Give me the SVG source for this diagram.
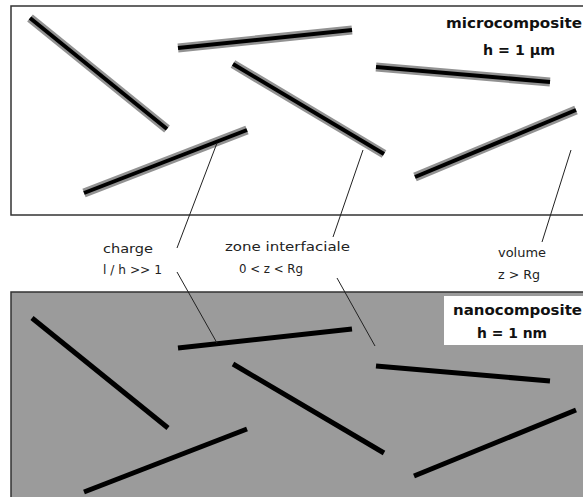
<svg xmlns="http://www.w3.org/2000/svg" width="583" height="497" viewBox="0 0 583 497">
<style>
.panel{stroke:#333;stroke-width:1.5}
.halo{stroke:#929292;stroke-width:9;stroke-linecap:butt}
.core{stroke:#000;stroke-width:4;stroke-linecap:butt}
.nrod{stroke:#000;stroke-width:5;stroke-linecap:butt}
.lbl{font-family:"DejaVu Sans","Liberation Sans",sans-serif;font-size:13px;fill:#222}
.ttl{font-family:"DejaVu Sans","Liberation Sans",sans-serif;font-size:14px;font-weight:bold;fill:#111}
.conn{stroke:#222;stroke-width:1;fill:none}
</style>
<rect width="583" height="497" fill="#fff"/>
<g id="micro">
<rect class="panel" x="11" y="6" width="580" height="209" fill="#fff"/>
<g id="micro-rods">
<line class="halo" x1="30" y1="18" x2="167" y2="129"/><line class="core" x1="30" y1="18" x2="167" y2="129"/>
<line class="halo" x1="178" y1="48" x2="352" y2="30"/><line class="core" x1="178" y1="48" x2="352" y2="30"/>
<line class="halo" x1="233" y1="64" x2="384" y2="154"/><line class="core" x1="233" y1="64" x2="384" y2="154"/>
<line class="halo" x1="376" y1="67" x2="550" y2="82"/><line class="core" x1="376" y1="67" x2="550" y2="82"/>
<line class="halo" x1="415" y1="177" x2="576" y2="110"/><line class="core" x1="415" y1="177" x2="576" y2="110"/>
<line class="halo" x1="84" y1="193" x2="247" y2="130"/><line class="core" x1="84" y1="193" x2="247" y2="130"/>
</g>
<text class="ttl" x="446" y="28" textLength="136" lengthAdjust="spacingAndGlyphs">microcomposite</text>
<text class="ttl" x="483" y="55" textLength="72" lengthAdjust="spacingAndGlyphs">h = 1 μm</text>
</g>
<g id="nano">
<rect class="panel" x="11" y="292" width="580" height="210" fill="#9b9b9b"/>
<g id="nano-rods">
<line class="nrod" x1="32" y1="318" x2="168" y2="428"/>
<line class="nrod" x1="178" y1="348" x2="352" y2="329"/>
<line class="nrod" x1="233" y1="364" x2="384" y2="453"/>
<line class="nrod" x1="376" y1="366" x2="550" y2="381"/>
<line class="nrod" x1="414" y1="476" x2="576" y2="410"/>
<line class="nrod" x1="84" y1="492" x2="247" y2="429"/>
</g>
<rect x="444" y="296" width="139" height="49" fill="#fff"/>
<text class="ttl" x="453" y="315" textLength="129" lengthAdjust="spacingAndGlyphs">nanocomposite</text>
<text class="ttl" x="477" y="338" textLength="70" lengthAdjust="spacingAndGlyphs">h = 1 nm</text>
</g>
<g id="connectors">
<line class="conn" x1="217" y1="143" x2="177" y2="248"/>
<line class="conn" x1="177" y1="272" x2="217" y2="343"/>
<line class="conn" x1="363" y1="150" x2="333" y2="237"/>
<line class="conn" x1="337" y1="278" x2="375" y2="346"/>
<line class="conn" x1="571" y1="150" x2="542" y2="242"/>
</g>
<g id="labels">
<g id="label-charge">
<text class="lbl" x="103" y="253" textLength="50" lengthAdjust="spacingAndGlyphs">charge</text>
<text class="lbl" x="103" y="274" textLength="59" lengthAdjust="spacingAndGlyphs">l / h &gt;&gt; 1</text>
</g>
<g id="label-zone">
<text class="lbl" x="225" y="251" textLength="125" lengthAdjust="spacingAndGlyphs">zone interfaciale</text>
<text class="lbl" x="239" y="273" textLength="64" lengthAdjust="spacingAndGlyphs">0 &lt; z &lt; Rg</text>
</g>
<g id="label-volume">
<text class="lbl" x="498" y="257" textLength="48" lengthAdjust="spacingAndGlyphs">volume</text>
<text class="lbl" x="498" y="279" textLength="42" lengthAdjust="spacingAndGlyphs">z &gt; Rg</text>
</g>
</g>
</svg>
